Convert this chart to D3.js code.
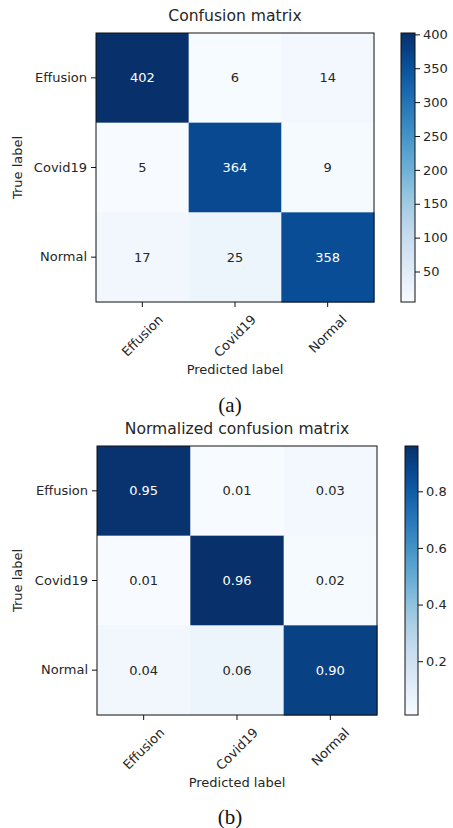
<!DOCTYPE html>
<html>
<head>
<meta charset="utf-8">
<script src="https://cdn.jsdelivr.net/npm/d3@7"></script>
<style>
  html, body { margin: 0; padding: 0; background: #fff; }
  svg { display: block; }
  text { font-family: "DejaVu Sans", sans-serif; fill: #262626; }
</style>
</head>
<body>
<svg id="fig" width="453" height="828"></svg>
<script>
// Class names shared by both matrices
const classes = ["Effusion", "Covid19", "Normal"];

// Raw counts (rows = true label, columns = predicted label)
const countsEffusion = [402, 6, 14];
const countsCovid19  = [5, 364, 9];
const countsNormal   = [17, 25, 358];

// Row-normalised rates as printed in the cells
const rateEffusion = [0.95, 0.01, 0.03];
const rateCovid19  = [0.01, 0.96, 0.02];
const rateNormal   = [0.04, 0.06, 0.90];

// Colour bar tick values
const countTicks = [50, 100, 150, 200, 250, 300, 350, 400];
const rateTicks  = [0.2, 0.4, 0.6, 0.8];

// Matplotlib "Blues" colormap stops
const bluesStops = ["#f7fbff", "#deebf7", "#c6dbef", "#9ecae1", "#6baed6",
                    "#4292c6", "#2171b5", "#08519c", "#08306b"];
const blues = d3.piecewise(d3.interpolateRgb, bluesStops);

const svg = d3.select("#fig");
svg.append("rect").attr("width", 453).attr("height", 828).attr("fill", "#fff");

function drawMatrix(opts) {
  const { rows, title, ticks, fmt, left, top, width, height, cbX, cbW, caption, captionY, id } = opts;
  const flat = rows.flat();
  const vmin = d3.min(flat), vmax = d3.max(flat);
  const norm = d3.scaleLinear().domain([vmin, vmax]).range([0, 1]).clamp(true);
  const color = v => blues(norm(v));

  const g = svg.append("g");

  const x = d3.scaleBand().domain(classes).range([left, left + width]);
  const y = d3.scaleBand().domain(classes).range([top, top + height]);

  // cells
  const cells = [];
  rows.forEach((r, i) => r.forEach((v, j) => cells.push({ t: classes[i], p: classes[j], v })));
  g.selectAll("rect.cell").data(cells).join("rect")
    .attr("class", "cell")
    .attr("x", d => x(d.p)).attr("y", d => y(d.t))
    .attr("width", x.bandwidth() + 0.5).attr("height", y.bandwidth() + 0.5)
    .attr("fill", d => color(d.v));

  // cell values
  g.selectAll("text.val").data(cells).join("text")
    .attr("class", "val")
    .attr("x", d => x(d.p) + x.bandwidth() / 2)
    .attr("y", d => y(d.t) + y.bandwidth() / 2)
    .attr("text-anchor", "middle").attr("dominant-baseline", "central")
    .attr("font-size", 13)
    .style("fill", d => d.v > vmax / 2 ? "#ffffff" : "#262626")
    .text(d => fmt(d.v));

  // frame
  g.append("rect").attr("x", left).attr("y", top).attr("width", width).attr("height", height)
    .attr("fill", "none").attr("stroke", "#111").attr("stroke-width", 1);

  // y axis
  const yAxis = g.append("g").attr("transform", `translate(${left},0)`)
    .call(d3.axisLeft(y).tickSize(5).tickPadding(4));
  yAxis.select(".domain").remove();
  yAxis.selectAll("line").attr("stroke", "#111");
  yAxis.selectAll("text").attr("font-size", 13).style("font-family", "DejaVu Sans").style("fill", "#262626");

  // x axis: ticks and 45° labels centred under each tick
  const xAxis = g.append("g").attr("transform", `translate(0,${top + height})`)
    .call(d3.axisBottom(x).tickSize(5).tickFormat(""));
  xAxis.select(".domain").remove();
  xAxis.selectAll("line").attr("stroke", "#111");
  const lbl = g.selectAll("text.xl").data(classes).join("text")
    .attr("class", "xl")
    .attr("font-size", 13)
    .attr("text-anchor", "middle").attr("dominant-baseline", "central")
    .text(d => d);
  lbl.each(function (d) {
    const w = this.getComputedTextLength();
    const h = 15;
    const cy = top + height + 10 + (w + h) / (2 * Math.SQRT2);
    d3.select(this).attr("transform", `translate(${x(d) + x.bandwidth() / 2},${cy}) rotate(-45)`);
  });

  // axis titles
  g.append("text").attr("x", left + width / 2).attr("y", top - 12)
    .attr("text-anchor", "middle").attr("font-size", 15.6).text(title);
  g.append("text").attr("x", left + width / 2).attr("y", top + height + 67)
    .attr("text-anchor", "middle").attr("dominant-baseline", "central")
    .attr("font-size", 13).text("Predicted label");
  g.append("text")
    .attr("transform", `translate(17,${top + height / 2}) rotate(-90)`)
    .attr("text-anchor", "middle").attr("dominant-baseline", "central")
    .attr("font-size", 13).text("True label");

  // colour bar
  const cb = d3.scaleLinear().domain([vmin, vmax]).range([top + height, top]);
  const grad = svg.append("defs").append("linearGradient")
    .attr("id", id).attr("x1", 0).attr("y1", 1).attr("x2", 0).attr("y2", 0);
  d3.range(0, 1.0001, 0.05).forEach(t => {
    grad.append("stop").attr("offset", t).attr("stop-color", blues(t));
  });
  g.append("rect").attr("x", cbX).attr("y", top).attr("width", cbW).attr("height", height)
    .attr("fill", `url(#${id})`).attr("stroke", "#111").attr("stroke-width", 1);
  const cbAxis = g.append("g").attr("transform", `translate(${cbX + cbW},0)`)
    .call(d3.axisRight(cb).tickValues(ticks).tickSize(5).tickPadding(3).tickFormat(d3.format("")));
  cbAxis.select(".domain").remove();
  cbAxis.selectAll("line").attr("stroke", "#111");
  cbAxis.selectAll("text").attr("font-size", 13).style("font-family", "DejaVu Sans").style("fill", "#262626");

  // caption
  g.append("text").attr("x", 230).attr("y", captionY)
    .attr("text-anchor", "middle").attr("dominant-baseline", "central")
    .attr("font-size", 21).style("font-family", "'Liberation Serif', 'Times New Roman', serif")
    .style("fill", "#111").text(caption);
}

drawMatrix({
  rows: [countsEffusion, countsCovid19, countsNormal],
  title: "Confusion matrix",
  ticks: countTicks,
  fmt: d3.format("d"),
  left: 96, top: 33, width: 278, height: 269,
  cbX: 401, cbW: 14,
  caption: "(a)", captionY: 405, id: "cbA"
});

drawMatrix({
  rows: [rateEffusion, rateCovid19, rateNormal],
  title: "Normalized confusion matrix",
  ticks: rateTicks,
  fmt: d3.format(".2f"),
  left: 97, top: 446, width: 280, height: 269,
  cbX: 405, cbW: 13,
  caption: "(b)", captionY: 817, id: "cbB"
});
</script>
</body>
</html>
